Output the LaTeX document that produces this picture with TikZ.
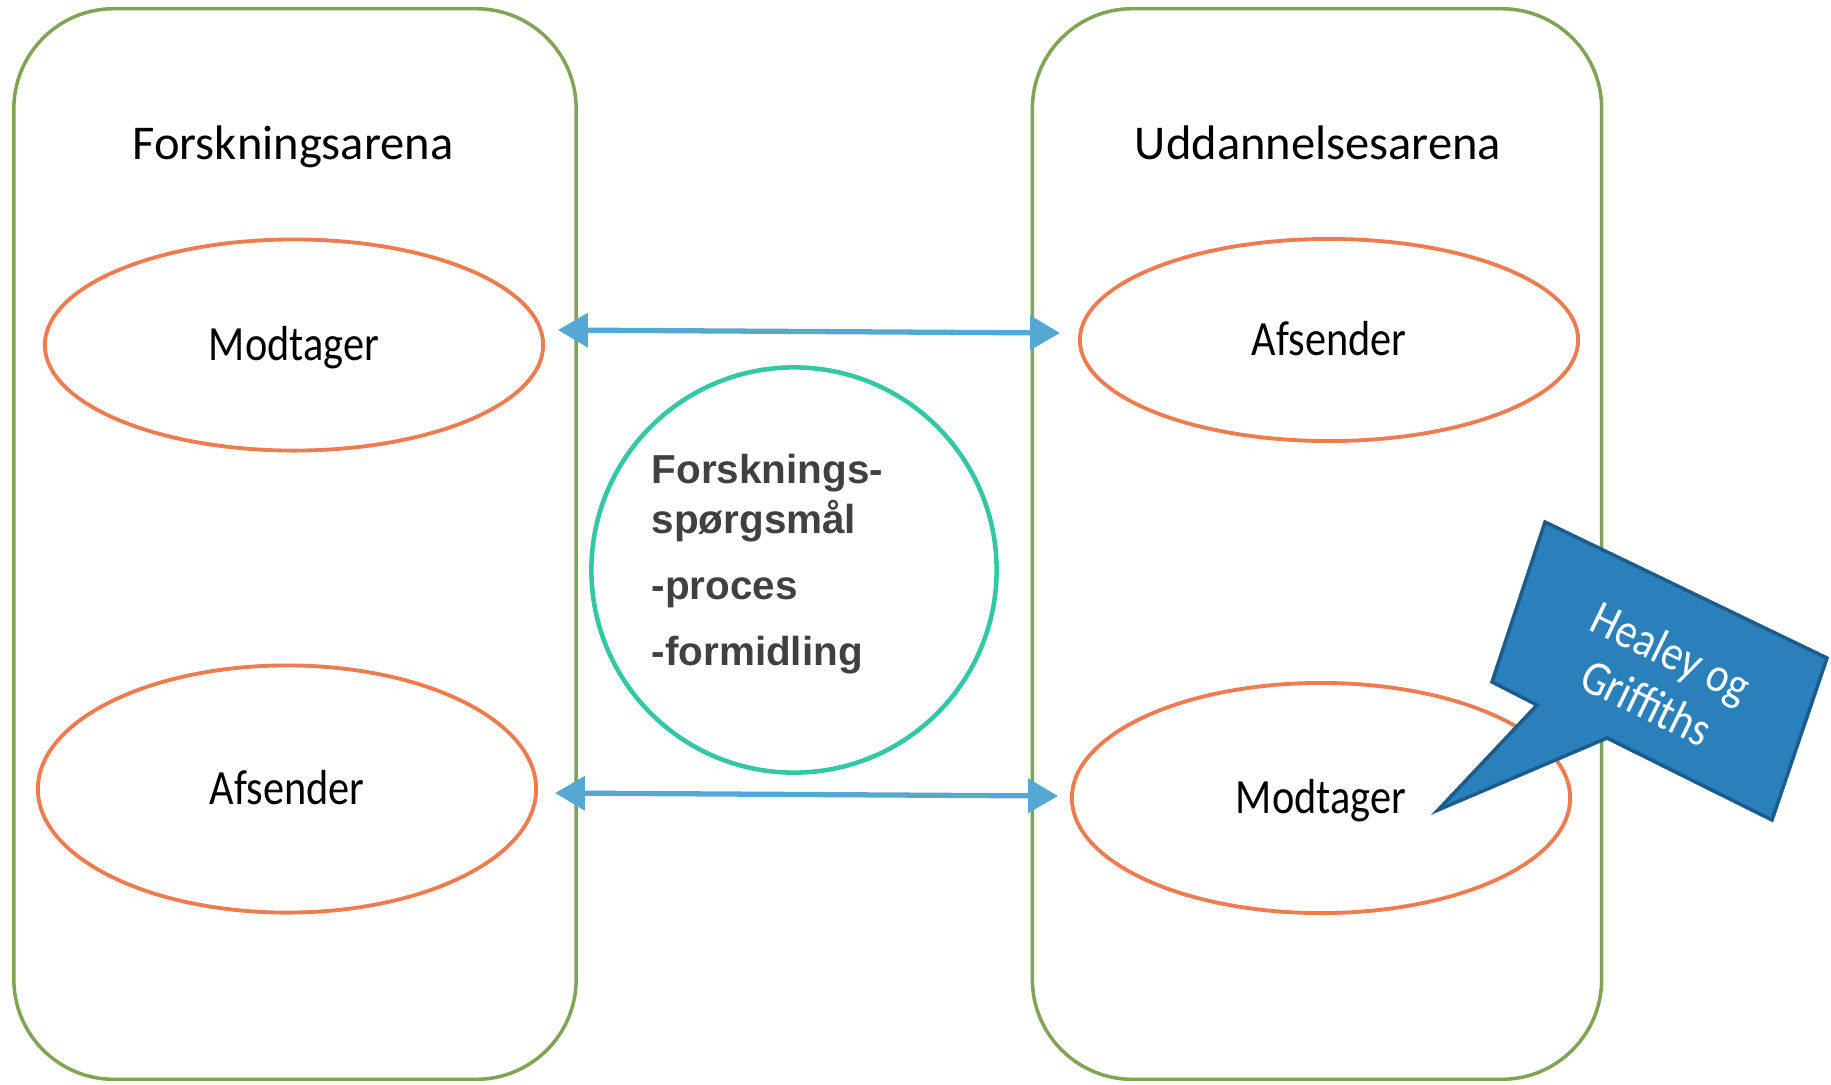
\documentclass[tikz,border=0pt]{standalone}
\usepackage{fontspec}
\setmainfont{Carlito}
\newfontfamily\rollefont[FakeStretch=0.86]{Carlito}
\newfontfamily\emnefont{Liberation Sans}
\usetikzlibrary{shapes.geometric,arrows.meta}
\definecolor{arenagreen}{RGB}{128,163,84}
\definecolor{rolleorange}{RGB}{237,125,80}
\definecolor{emneteal}{RGB}{52,199,166}
\definecolor{pilblue}{RGB}{86,168,212}
\definecolor{kaldfill}{RGB}{41,128,186}
\definecolor{kaldline}{RGB}{28,92,140}
\definecolor{emnetext}{RGB}{64,64,64}

\begin{document}
\begin{tikzpicture}[x=0.01cm,y=-0.01cm,
    arena/.style={draw=arenagreen,line width=1pt,rounded corners=1cm,
      minimum height=10.7cm,inner sep=0pt},
    titel/.style={anchor=base,inner sep=0pt,font=\fontsize{13.8}{16}\selectfont},
    rolle/.style={ellipse,draw=rolleorange,line width=1.1pt,minimum width=4.98cm,
      inner sep=0pt,text height=9pt,text depth=0pt,font=\rollefont\fontsize{14}{16}\selectfont},
    emne/.style={circle,draw=emneteal,line width=1.3pt,minimum size=4.05cm,inner sep=0pt},
    linje/.style={anchor=base west,inner sep=0pt,text=emnetext,
      font=\emnefont\fontsize{11.5}{13.5}\selectfont\bfseries},
    pil/.style={draw=pilblue,line width=1.5pt,{Triangle[length=8.5pt,width=9.5pt]}-{Triangle[length=8.5pt,width=9.5pt]}},
    kald/.style={fill=kaldfill,draw=kaldline,line width=1pt,line join=miter}]
  \useasboundingbox (0,0) rectangle (1831,1084);

  \node[arena,minimum width=5.62cm] (forskbox) at (295,544) {};
  \node[arena,minimum width=5.69cm] (uddbox) at (1317,544) {};
  \node[titel] (forsktitel) at (293,159) {Forskningsarena};
  \node[titel] (uddtitel) at (1318,159) {Uddannelsesarena};

  \node[rolle,minimum height=2.11cm] (fmod) at (294,345) {Modtager};
  \node[rolle,minimum height=2.47cm] (fafs) at (287,789) {Afsender};
  \node[rolle,minimum height=2.02cm] (uafs) at (1329,340) {Afsender};
  \node[rolle,minimum height=2.30cm] (umod) at (1321,798) {Modtager};

  \node[emne] (emne) at (794,570) {};
  \node[linje] (l1) at (651,483) {Forsknings-};
  \node[linje] (l2) at (651,533) {spørgsmål};
  \node[linje] (l3) at (651,599) {-proces};
  \node[linje] (l4) at (651,665) {-formidling};

  \coordinate (op1) at (558,330);
  \coordinate (op2) at (1060,333);
  \coordinate (ned1) at (555,793);
  \coordinate (ned2) at (1058,796);
  \draw[pil] (op1) -- (op2);
  \draw[pil] (ned1) -- (ned2);

  \draw[kald] (1545,522) -- (1827,658) -- (1772,820) -- (1607,738)
    -- (1438,810) -- (1537,705) -- (1492,682) -- cycle;
  \node[rotate=-26,text=white,align=center,font=\rollefont\fontsize{14}{16}\selectfont]
    (kaldtekst) at (1659,677) {Healey og\\Griffiths};
\end{tikzpicture}
\end{document}
